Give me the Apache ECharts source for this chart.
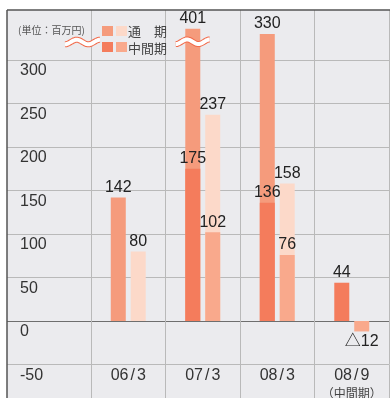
<!DOCTYPE html>
<html><head><meta charset="utf-8">
<script src="https://cdn.jsdelivr.net/npm/echarts@6/dist/echarts.min.js"></script>
<style>html,body{margin:0;padding:0;background:#fff}#c{width:392px;height:398px}</style>
</head><body><div id="c"></div>
<script>
// ---- data ----
const categories = ['06/3', '07/3', '08/3', '08/9'];
const fullYearA = [142, 401, 330, null];   // left bar, 通期
const interimA  = [null, 175, 136, 44];    // left bar, 中間期
const fullYearB = [80, 237, 158, null];    // right bar, 通期
const interimB  = [null, 102, 76, -12];    // right bar, 中間期
const yTickLabels = [-50, 0, 50, 100, 150, 200, 250, 300];
const unitText = '(単位：百万円)';
const legendNames = ['通　期', '中間期'];
const subLabel = '（中間期）';
const BREAK_AT = 336; // broken-axis cap: taller bars are drawn truncated

// ---- style ----
const FONT = "'Liberation Sans','Noto Sans CJK JP',sans-serif";
const CJK = "'Noto Sans CJK JP','Liberation Sans',sans-serif";
const C_FA = '#f59b7c', C_IA = '#f47c5c', C_FB = '#fcd9c9', C_IB = '#f9a98c';
const GRID = '#b9b9b9', ZERO = '#6e6e6e', CLEAR = 'rgba(0,0,0,0)';
const splitColors = [GRID, ZERO, GRID, GRID, GRID, GRID, GRID, GRID, CLEAR, CLEAR];
const Y_MIN = -50, Y_MAX = 357.5, TOP = 10, BOTTOM = 33.5;

const chart = echarts.init(document.getElementById('c'));

function lbl(src, pos) {
  return {
    show: true, position: pos || 'top', distance: 2,
    fontFamily: FONT, fontSize: 16, color: '#222',
    formatter: p => { const v = src[p.dataIndex]; return v == null ? '' : (v < 0 ? '△' + Math.abs(v) : String(v)); }
  };
}
function prep(arr) {
  return arr.map(v => v == null ? null : (v < 0 ? { value: v, label: { position: 'bottom' } } : Math.min(v, BREAK_AT)));
}
function wave(x0, x1, cy) {
  const pts = [], N = 40, A = 2.3;
  for (let i = 0; i <= N; i++) {
    const t = i / N;
    pts.push([x0 + (x1 - x0) * t, cy + A * Math.cos(2 * Math.PI * 1.5 * t)]);
  }
  return [
    { type: 'polyline', shape: { points: pts, smooth: 0.3 }, style: { stroke: '#f26a4a', lineWidth: 6, fill: null, lineCap: 'butt' }, z: 100 },
    { type: 'polyline', shape: { points: pts, smooth: 0.3 }, style: { stroke: '#ffffff', lineWidth: 4, fill: null, lineCap: 'butt' }, z: 101 }
  ];
}

const option = {
  backgroundColor: '#ffffff',
  animation: false,
  grid: [
    { left: 91, right: 3, top: TOP, bottom: BOTTOM, containLabel: false, outerBoundsMode: 'none' },
    { left: 7, width: 84, top: TOP, bottom: BOTTOM, containLabel: false, outerBoundsMode: 'none' }
  ],
  xAxis: [
    {
      type: 'category', data: categories, gridIndex: 0, position: 'bottom',
      axisLine: { show: false, onZero: false },
      axisTick: { show: true, interval: 0, length: 36, lineStyle: { color: GRID } },
      splitLine: { show: true, interval: 0, lineStyle: { color: GRID, width: 1 } },
      axisLabel: {
        interval: 0, margin: 2, color: '#333', fontFamily: FONT, fontSize: 16, lineHeight: 18,
        formatter: v => v.replace('/', '{sl|/}') + (v === '08/9' ? '\n{s|' + subLabel + '}' : ''),
        rich: {
          sl: { fontFamily: FONT, fontSize: 16, color: '#333', padding: [0, 2, 0, 2], lineHeight: 18 },
          s: { fontFamily: CJK, fontSize: 12, color: '#444', lineHeight: 17 }
        }
      }
    },
    { type: 'category', data: categories, gridIndex: 0, show: false },
    { type: 'value', gridIndex: 1, show: false }
  ],
  yAxis: [
    {
      type: 'value', gridIndex: 0, min: Y_MIN, max: Y_MAX, interval: 50,
      axisLine: { show: false }, axisTick: { show: false },
      splitLine: { show: true, lineStyle: { color: splitColors, width: 1 } },
      axisLabel: {
        align: 'left', margin: 71, verticalAlign: 'top', padding: [3, 0, 0, 0],
        color: '#333', fontFamily: FONT, fontSize: 16,
        formatter: v => yTickLabels.includes(v) ? String(v) : ''
      }
    },
    {
      type: 'value', gridIndex: 1, min: Y_MIN, max: Y_MAX, interval: 50,
      axisLine: { show: false }, axisTick: { show: false }, axisLabel: { show: false },
      splitLine: { show: true, lineStyle: { color: splitColors, width: 1 } }
    }
  ],
  series: [
    { name: '通期A', type: 'bar', xAxisIndex: 0, yAxisIndex: 0, barWidth: 15, barGap: '33%',
      data: prep(fullYearA), itemStyle: { color: C_FA }, label: lbl(fullYearA) },
    { name: '通期B', type: 'bar', xAxisIndex: 0, yAxisIndex: 0, barWidth: 15, barGap: '33%',
      data: prep(fullYearB), itemStyle: { color: C_FB }, label: lbl(fullYearB) },
    { name: '中間期A', type: 'bar', xAxisIndex: 1, yAxisIndex: 0, barWidth: 15, barGap: '33%',
      data: prep(interimA), itemStyle: { color: C_IA }, label: lbl(interimA) },
    { name: '中間期B', type: 'bar', xAxisIndex: 1, yAxisIndex: 0, barWidth: 15, barGap: '33%',
      data: prep(interimB), itemStyle: { color: C_IB }, label: lbl(interimB) }
  ]
};
chart.setOption(option);

// decorations: background, frame, unit, legend, break marks
const bx = chart.convertToPixel({ xAxisIndex: 0 }, categories[1]) - 10;
const by = chart.convertToPixel({ yAxisIndex: 0 }, BREAK_AT - 15);
const els = [
  { type: 'rect', shape: { x: 7, y: 10, width: 383, height: 400 }, style: { fill: '#ebebee' }, z: -10 },
  { type: 'line', shape: { x1: 7, y1: 10, x2: 390, y2: 10 }, style: { stroke: '#555', lineWidth: 1.5 }, z: 110 },
  { type: 'line', shape: { x1: 7, y1: 10, x2: 7, y2: 400 }, style: { stroke: '#555', lineWidth: 1.5 }, z: 110 },
  { type: 'text', x: 18, y: 30, style: { text: unitText, font: "10px " + CJK, fill: '#555', verticalAlign: 'middle' }, z: 50 },
  { type: 'rect', shape: { x: 102, y: 26, width: 11, height: 10 }, style: { fill: C_FA }, z: 50 },
  { type: 'rect', shape: { x: 116, y: 26, width: 11, height: 10 }, style: { fill: C_FB }, z: 50 },
  { type: 'rect', shape: { x: 102, y: 42, width: 11, height: 10 }, style: { fill: C_IA }, z: 50 },
  { type: 'rect', shape: { x: 116, y: 42, width: 11, height: 10 }, style: { fill: C_IB }, z: 50 },
  { type: 'text', x: 128, y: 31, style: { text: legendNames[0], font: "13px " + CJK, fill: '#444', verticalAlign: 'middle' }, z: 50 },
  { type: 'text', x: 128, y: 48, style: { text: legendNames[1], font: "13px " + CJK, fill: '#444', verticalAlign: 'middle' }, z: 50 }
].concat(wave(65, 100, 42), wave(bx - 17, bx + 17, by));
chart.setOption({ graphic: { elements: els } });
</script></body></html>
